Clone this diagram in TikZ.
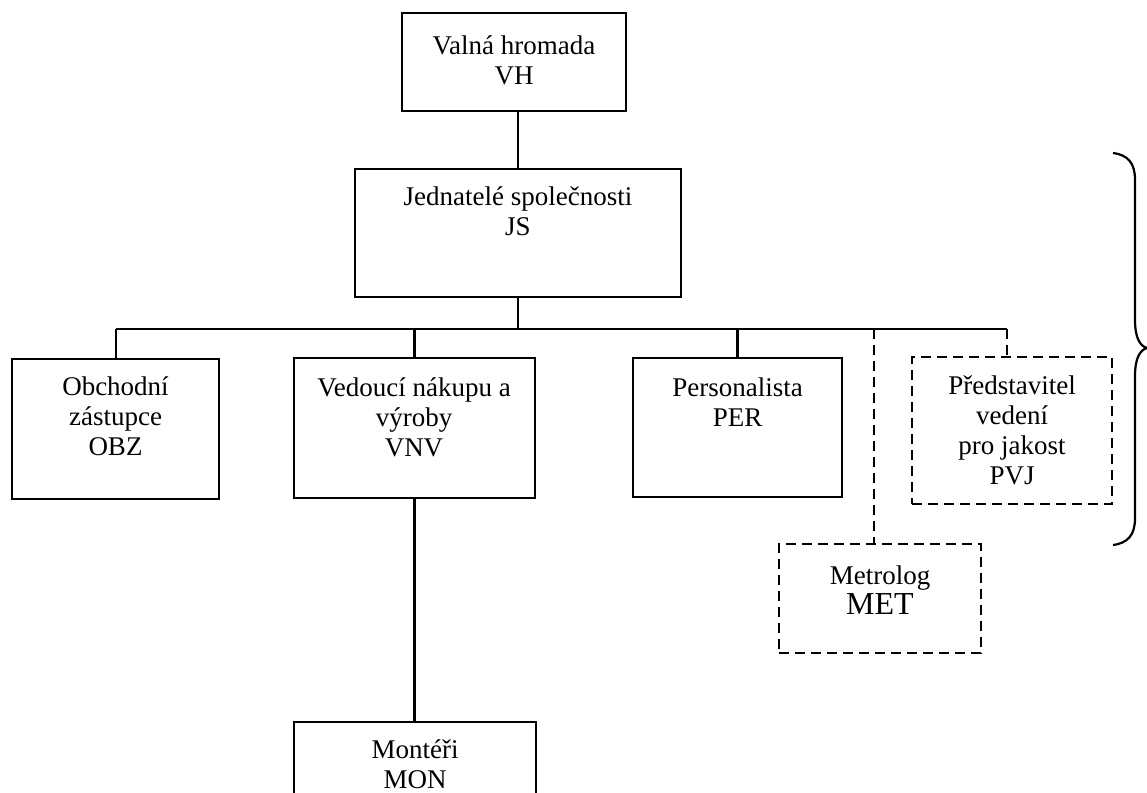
\documentclass[tikz,border=0pt]{standalone}
\usepackage{fontspec}
\setmainfont{Liberation Serif}
\begin{document}
\begin{tikzpicture}[x=1pt,y=-1pt,
  box/.style={draw, line width=2.6pt, inner sep=0pt, rectangle},
  dbox/.style={draw, line width=2.6pt, dash pattern=on 10pt off 6pt, inner sep=0pt, rectangle},
  lbl/.style={align=center, inner sep=0pt, font=\fontsize{27}{30}\selectfont},
  conn/.style={line width=2.4pt},
  bus/.style={line width=1.8pt},
  dconn/.style={line width=2.4pt, dash pattern=on 10pt off 6pt},
  brace/.style={line width=2.2pt}]
\useasboundingbox (0,0) rectangle (1147,792);
\clip (0,0) rectangle (1147,792);

% boxes
\node[box, minimum width=224pt, minimum height=98pt] (vh) at (514,62) {};
\node[box, minimum width=326pt, minimum height=128pt] (js) at (518,233) {};
\node[box, minimum width=207pt, minimum height=140pt] (obz) at (115.5,429) {};
\node[box, minimum width=241pt, minimum height=140pt] (vnv) at (414.5,428) {};
\node[box, minimum width=209pt, minimum height=139pt] (per) at (737.5,427.5) {};
\node[dbox, minimum width=200pt, minimum height=147pt] (pvj) at (1012,430.5) {};
\node[dbox, minimum width=202pt, minimum height=109pt] (met) at (880,598.5) {};
\node[box, minimum width=242pt, minimum height=100pt] (mon) at (415,772) {};

% texts
\node[lbl] (vht) at (514,60) {Valná hromada\\VH};
\node[lbl] (jst) at (518,211) {Jednatelé společnosti\\JS};
\node[lbl] (obzt) at (115.5,416) {Obchodní\\zástupce\\OBZ};
\node[lbl] (vnvt) at (414,417) {Vedoucí nákupu a\\výroby\\VNV};
\node[lbl] (pert) at (737.5,402) {Personalista\\PER};
\node[lbl] (pvjt) at (1012,430) {Představitel\\vedení\\ pro jakost\\PVJ};
\node[lbl] (mett) at (880,590) {Metrolog\\{\fontsize{32}{30}\selectfont MET}};
\node[lbl] (mont) at (415,764) {Montéři\\MON};

% bus
\coordinate (busL) at (116,329);
\coordinate (busR) at (1007,329);
\coordinate (metT) at (874,329);
\draw[bus] (busL) -- (busR);

% connectors
\draw[conn] (js.north |- vh.south) -- (js.north);
\draw[conn] (js.south) -- (js.south |- busL);
\draw[conn] (busL) -- (busL |- obz.north);
\draw[conn] (vnv.north |- busL) -- (vnv.north);
\draw[conn] (per.north |- busL) -- (per.north);
\draw[conn] (vnv.south) -- (vnv.south |- mon.north);
\draw[dconn] (metT) -- (metT |- met.north);
\draw[dconn] (busR) -- (busR |- pvj.north);

% brace
\draw[brace] (1113,153) .. controls (1128,155) and (1135,163) .. (1135,180)
  -- (1135,320) .. controls (1135,338) and (1140,346) .. (1147,348)
  .. controls (1140,350) and (1135,358) .. (1135,376)
  -- (1135,518) .. controls (1135,535) and (1128,543) .. (1113,545);
\end{tikzpicture}
\end{document}
